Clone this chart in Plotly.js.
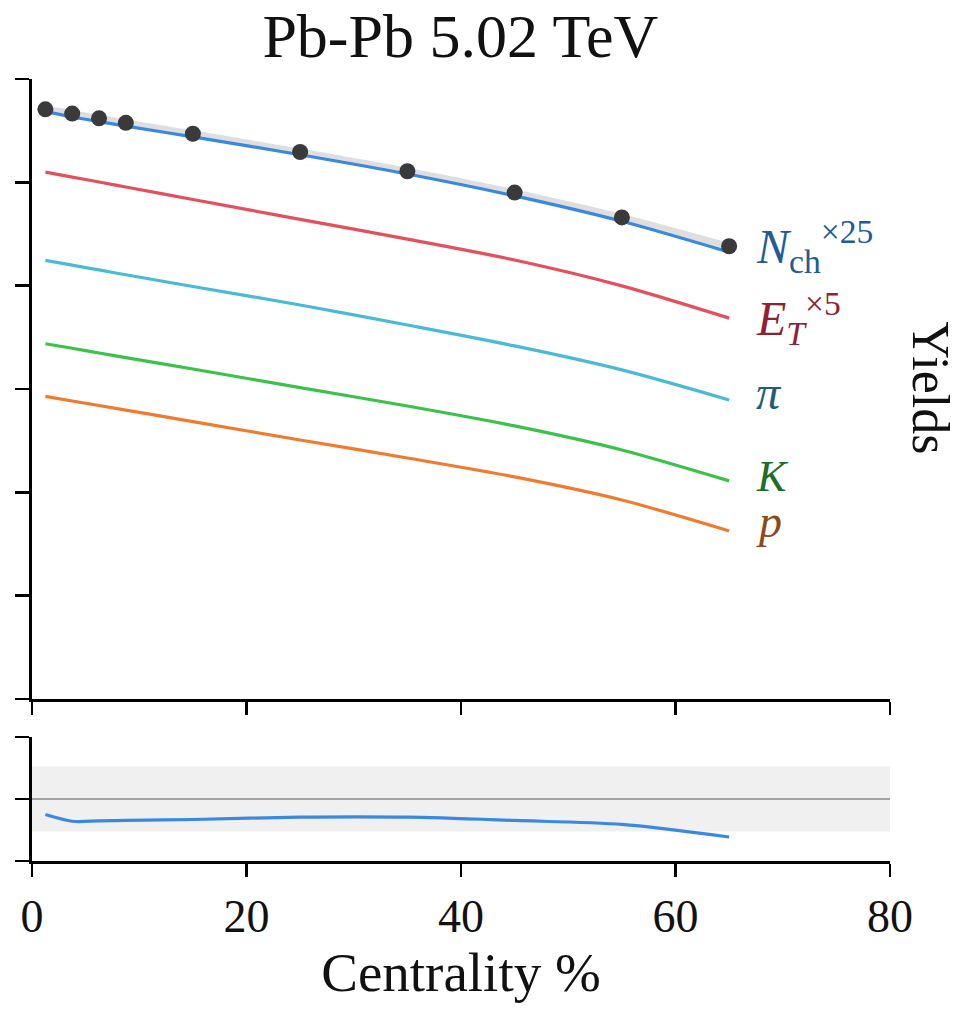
<!DOCTYPE html>
<html>
<head>
<meta charset="utf-8">
<script src="https://cdn.plot.ly/plotly-3.0.1.min.js"></script>
<style>html,body{margin:0;padding:0;background:#fff;}#chart{width:961px;height:1009px;}</style>
</head>
<body>
<div id="chart"></div>
<script>
// Centrality bin centres (%)
const centrality = [1.25, 3.75, 6.25, 8.75, 15, 25, 35, 45, 55, 65];
// Measured charged-particle multiplicity dNch/deta and its uncertainty
const nchData = [2035, 1850, 1666, 1505, 1180, 786, 512, 318, 183, 96.3];
const nchErr  = [163, 148, 133, 120, 94, 63, 41, 25, 15, 7.7];
// Model curves
const nchModel    = [1933, 1717, 1548, 1401, 1102, 740, 482, 296, 168, 84.5];
const etModel     = [2512, 2248, 2014, 1803, 1365, 877, 564, 354, 199, 97];
const pionModel   = [1758, 1578, 1419, 1274, 982, 650, 416, 261, 153, 78.3];
const kaonModel   = [274, 248, 223, 201, 156, 103, 68.4, 43.9, 25.7, 12.9];
const protonModel = [84.7, 76.5, 69.2, 62.5, 48.4, 32.1, 21.5, 14.1, 8.43, 4.23];
// Scale factors
const nchScale = 25;
const etScale = 5;
// Ratio panel reference band
const ratioBand = [0.895, 1.105];
const ratioRef = 1.0;
const xTicks = [0, 20, 40, 60, 80];

const sc = (arr, f) => arr.map(v => v * f);
const nchD = sc(nchData, nchScale);
const nchUp = nchData.map((v, i) => (v + nchErr[i]) * nchScale);
const nchLo = nchData.map((v, i) => (v - nchErr[i]) * nchScale);
const ratio = nchModel.map((v, i) => v / nchData[i]);

const FONT = 'Liberation Serif, Times New Roman, serif';
const cBlue = '#3a88e0', cRed = '#e3505e', cCyan = '#4bbad4', cGreen = '#3cc24a', cOrange = '#f07b2e';
const smooth = {shape: 'spline', smoothing: 0.8};

const traces = [
  {x: centrality, y: nchUp, mode: 'lines', line: Object.assign({width: 0, color: 'rgba(0,0,0,0)'}, smooth), xaxis: 'x', yaxis: 'y', hoverinfo: 'skip'},
  {x: centrality, y: nchLo, mode: 'lines', fill: 'tonexty', fillcolor: '#dedede', line: Object.assign({width: 0, color: 'rgba(0,0,0,0)'}, smooth), xaxis: 'x', yaxis: 'y', hoverinfo: 'skip'},
  {x: centrality, y: sc(nchModel, nchScale), mode: 'lines', line: Object.assign({color: cBlue, width: 3.2}, smooth), xaxis: 'x', yaxis: 'y'},
  {x: centrality, y: sc(etModel, etScale), mode: 'lines', line: Object.assign({color: cRed, width: 3.2}, smooth), xaxis: 'x', yaxis: 'y'},
  {x: centrality, y: pionModel, mode: 'lines', line: Object.assign({color: cCyan, width: 3.2}, smooth), xaxis: 'x', yaxis: 'y'},
  {x: centrality, y: kaonModel, mode: 'lines', line: Object.assign({color: cGreen, width: 3.2}, smooth), xaxis: 'x', yaxis: 'y'},
  {x: centrality, y: protonModel, mode: 'lines', line: Object.assign({color: cOrange, width: 3.2}, smooth), xaxis: 'x', yaxis: 'y'},
  {x: centrality, y: nchD, mode: 'markers', marker: {color: '#3a3a3a', size: 16}, xaxis: 'x', yaxis: 'y'},
  {x: centrality, y: ratio, mode: 'lines', line: Object.assign({color: cBlue, width: 3.2}, smooth), xaxis: 'x2', yaxis: 'y2'}
];

const last = a => a[a.length - 1];
const xLab = 67.3;
const labFont = (c, s) => ({family: FONT, size: s || 48, color: c});
const annotations = [
  {x: xLab, y: Math.log10(last(nchModel) * nchScale), xref: 'x', yref: 'y', xanchor: 'left', yanchor: 'middle', showarrow: false,
   text: '<i>N</i><sub>ch</sub><sup>×25</sup>', font: labFont('#245a96'), yshift: 6},
  {x: xLab, y: Math.log10(last(etModel) * etScale), xref: 'x', yref: 'y', xanchor: 'left', yanchor: 'middle', showarrow: false,
   text: '<i>E</i><sub><i>T</i></sub><sup>×5</sup>', font: labFont('#8e2232'), yshift: 0},
  {x: xLab, y: Math.log10(last(pionModel)), xref: 'x', yref: 'y', xanchor: 'left', yanchor: 'middle', showarrow: false,
   text: '<i>π</i>', font: labFont('#1f5f73'), yshift: 7},
  {x: xLab, y: Math.log10(last(kaonModel)), xref: 'x', yref: 'y', xanchor: 'left', yanchor: 'middle', showarrow: false,
   text: '<i>K</i>', font: labFont('#1d6e2a', 44), yshift: 4},
  {x: xLab, y: Math.log10(last(protonModel)), xref: 'x', yref: 'y', xanchor: 'left', yanchor: 'middle', showarrow: false,
   text: '<i>p</i>', font: labFont('#8b4a18', 46), yshift: 9},
  {x: 1.047, y: 0.605, xref: 'paper', yref: 'paper', xanchor: 'center', yanchor: 'middle', showarrow: false,
   text: 'Yields', textangle: 90, font: {family: FONT, size: 52, color: '#111'}}
];

const shapes = [
  {type: 'rect', xref: 'x2', yref: 'y2', x0: xTicks[0], x1: last(xTicks), y0: ratioBand[0], y1: ratioBand[1],
   fillcolor: '#f0f0f0', line: {width: 0}, layer: 'below'},
  {type: 'line', xref: 'x2', yref: 'y2', x0: xTicks[0], x1: last(xTicks), y0: ratioRef, y1: ratioRef,
   line: {color: '#8a8a8a', width: 1.6}, layer: 'below'}
];

const axCommon = {showgrid: false, zeroline: false, showline: true, linecolor: '#000', linewidth: 2.6,
  ticks: 'outside', tickcolor: '#000', tickwidth: 2.6, ticklen: 13};

const layout = {
  width: 961, height: 1009,
  margin: {l: 32, r: 71, t: 79, b: 148},
  paper_bgcolor: '#fff', plot_bgcolor: 'rgba(0,0,0,0)',
  showlegend: false,
  font: {family: FONT, color: '#111'},
  title: {text: 'Pb-Pb 5.02 TeV', x: 0.479, xanchor: 'center', y: 0.965, yanchor: 'middle', yref: 'container',
          font: {family: FONT, size: 62, color: '#111'}},
  xaxis: Object.assign({}, axCommon, {domain: [0, 1], range: [0, 80], tickvals: xTicks, showticklabels: false, anchor: 'y'}),
  yaxis: Object.assign({}, axCommon, {domain: [0.2072, 1], type: 'log', range: [-1, 5], dtick: 1, showticklabels: false, anchor: 'x', ticklen: 14}),
  xaxis2: Object.assign({}, axCommon, {domain: [0, 1], range: [0, 80], tickvals: xTicks, anchor: 'y2',
          tickfont: {family: FONT, size: 46, color: '#111'},
          title: {text: 'Centrality %', font: {family: FONT, size: 55, color: '#111'}, standoff: 12}}),
  yaxis2: Object.assign({}, axCommon, {domain: [0, 0.1586], range: [0.8, 1.2], tickvals: [0.8, 1.0, 1.2], showticklabels: false, anchor: 'x2', ticklen: 14}),
  annotations: annotations,
  shapes: shapes
};

Plotly.newPlot('chart', traces, layout, {staticPlot: true, displayModeBar: false});
</script>
</body>
</html>
